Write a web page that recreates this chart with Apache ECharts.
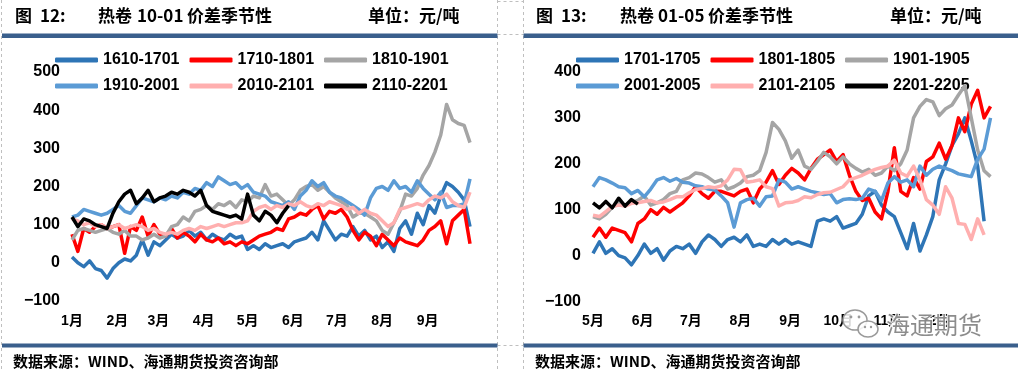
<!DOCTYPE html>
<html><head><meta charset="utf-8">
<script src="https://cdn.jsdelivr.net/npm/echarts@6/dist/echarts.min.js"></script>
<style>html,body{margin:0;padding:0;background:#fff}#c{width:1018px;height:371px}</style>
</head><body><div id="c"></div>
<script>
// ---------- Left chart: 热卷 10-01 价差季节性 (days since Jan 1) ----------
const leftDays = [0,4,8,12,16,20,24,28,32,36,40,44,48,52,56,60,64,68,72,76,80,84,88,92,96,100,104,108,112,116,120,124,128,132,136,140,144,148,152,156,160,164,168,172,176,180,184,188,192,196,200,204,208,212,216,220,224,228,232,236,240,244,248,252,256,260,264,268,272];
const leftMonthDays = [0,31,59,90,120,151,181,212,243];
const leftMonthLabels = ['1月','2月','3月','4月','5月','6月','7月','8月','9月'];
const leftNames = ['1610-1701','1710-1801','1810-1901','1910-2001','2010-2101','2110-2201'];
const s1610_1701 = [15,0,-10,5,-15,-20,-40,-15,0,10,5,20,60,20,55,45,60,75,65,70,85,70,80,60,75,65,60,75,65,70,35,45,35,50,40,45,50,40,55,60,65,80,60,110,85,60,75,70,95,70,85,60,70,40,55,30,90,110,75,130,100,150,130,175,210,200,185,165,95];
const s1710_1801 = [75,30,90,80,95,100,90,95,100,25,95,85,120,70,100,75,70,90,65,80,70,55,75,60,55,65,50,55,45,55,50,60,70,75,80,90,85,115,120,130,125,140,150,115,135,130,140,120,85,60,80,70,45,75,60,45,65,55,50,45,60,85,95,110,50,110,125,140,50];
const s1810_1901 = [60,85,90,85,80,85,90,80,75,85,70,70,60,65,75,65,70,95,100,120,110,135,140,150,140,155,150,160,145,165,160,175,170,205,175,180,165,150,165,190,200,205,190,200,185,170,160,150,120,130,130,120,110,85,75,105,135,180,175,195,230,255,290,335,415,375,365,360,315];
const s1910_2001 = [120,125,140,135,130,125,130,140,150,135,130,150,170,165,160,170,165,175,170,185,180,195,190,210,200,225,215,205,210,195,205,185,180,175,160,155,150,160,140,175,190,215,200,210,185,175,170,160,150,140,125,170,195,200,190,215,195,200,185,215,195,180,165,185,145,150,150,155,220];
const s2010_2101 = [115,110,100,105,95,100,90,95,100,90,95,100,95,85,90,80,75,80,75,85,90,85,95,90,95,100,95,100,105,105,110,135,145,150,140,150,145,155,150,160,150,145,155,150,160,155,150,140,145,130,140,130,125,110,95,105,140,145,150,155,150,165,175,170,180,160,150,145,185];
const s2110_2201 = [120,95,115,110,100,95,90,130,160,180,190,155,170,190,160,170,175,185,180,190,185,175,190,150,135,130,125,120,125,115,180,125,110,135,125,105,130,150];
const leftYTicks = {min:-100, max:500, interval:100};

// ---------- Right chart: 热卷 01-05 价差季节性 (days since May 1) ----------
const rightDays = [0,4,8,12,16,20,24,28,32,36,40,44,48,52,56,60,64,68,72,76,80,84,88,92,96,100,104,108,112,116,120,124,128,132,136,140,144,148,152,156,160,164,168,172,176,180,184,188,192,196,200,204,208,212,216,220,224,228,232,236,240,244,248];
const rightMonthDays = [0,31,61,92,123,153,184,214];
const rightMonthLabels = ['5月','6月','7月','8月','9月','10月','11月','12月'];
const rightNames = ['1701-1705','1801-1805','1901-1905','2001-2005','2101-2105','2201-2205'];
const r1701_1705 = [5,30,5,15,0,-5,-20,0,25,5,15,-10,10,20,15,25,5,30,45,35,20,35,40,30,45,20,25,20,35,25,35,25,30,25,20,75,80,75,85,60,65,70,90,130,140,110,95,85,50,15,70,10,45,85,165,200,240,265,300,250,195,75];
const r1801_1805 = [40,60,40,60,55,50,30,70,80,100,90,105,95,105,115,130,150,135,125,140,140,135,130,140,145,115,145,160,185,155,175,190,180,165,190,210,220,230,205,220,175,140,120,125,95,80,140,235,140,130,170,145,205,215,245,210,240,300,270,330,360,300,325];
const r1901_1905 = [85,80,90,105,115,110,115,120,130,110,115,122,135,140,165,170,180,178,170,160,165,145,150,158,172,175,185,225,290,275,250,212,230,195,188,205,225,215,200,215,200,190,182,188,175,180,195,185,200,230,300,325,340,335,305,320,328,350,370,300,230,185,172];
const r2001_2005 = [150,170,165,158,150,148,135,142,128,145,165,170,162,168,160,158,152,150,145,143,130,115,62,115,122,125,108,128,130,165,160,145,150,145,140,137,133,135,115,122,124,122,125,145,140,120,158,172,160,165,150,195,175,188,195,190,185,178,175,172,210,232,300];
const r2101_2105 = [88,85,96,107,110,108,114,115,118,120,115,117,122,128,128,137,144,146,150,148,152,165,188,187,160,162,165,150,146,108,115,116,120,128,126,133,137,138,144,150,165,170,175,182,188,192,195,208,180,173,195,165,122,110,90,150,125,70,68,35,80,45];
const r2201_2205 = [115,104,118,104,125,108,122,112];
const rightYTicks = {min:-100, max:400, interval:100};

const colors = ['#2E75B6','#FF0000','#A5A5A5','#5B9BD5','#FFAFAF','#000000'];

const latin = '"Liberation Sans", "Noto Sans CJK SC", sans-serif';
const cjk = '"Noto Sans CJK SC", sans-serif';

function pairs(days, vals){ return vals.map((v,i)=>[days[i], v]); }
function mkSeries(names, days, arrays, axisIdx){
  return arrays.map((arr,i)=>({
    name: names[i], type:'line', xAxisIndex:axisIdx, yAxisIndex:axisIdx,
    data: pairs(days, arr), showSymbol:false, symbol:'none',
    lineStyle:{width:3.5, color:colors[i], join:'round'}, itemStyle:{color:colors[i]},
    emphasis:{disabled:true}, silent:true, z: 2+i
  }));
}
function legendRow(names, left, top){
  return { data:names, left, top, orient:'horizontal', padding:0,
    itemWidth:43, itemHeight:5, itemGap:10, icon:'roundRect', selectedMode:false,
    textStyle:{fontSize:16, fontWeight:'bold', color:'#000', fontFamily:latin} };
}
function xAxisCfg(idx, max, mdays, mlabels){
  return { gridIndex:idx, type:'value', min:0, max:max,
    axisLine:{show:false}, axisTick:{show:false}, splitLine:{show:false},
    axisLabel:{ customValues: mdays, showMinLabel:true, showMaxLabel:true,
      formatter:(v)=>{ const k = mdays.indexOf(v); return k>=0 ? mlabels[k] : ''; },
      margin:13, fontSize:14, fontWeight:'bold', color:'#000', fontFamily:latin } };
}
function yAxisCfg(idx, t){
  return { gridIndex:idx, type:'value', min:t.min, max:t.max, interval:t.interval,
    axisLine:{show:false}, axisTick:{show:false}, splitLine:{show:false},
    axisLabel:{ margin:12, fontSize:16, fontWeight:'bold', color:'#000', fontFamily:latin,
      formatter:(v)=>String(v).replace('-', '\u2212') } };
}
function txt(text, x, y, font, extra){
  return Object.assign({ type:'text', z:50, style:{ text, x, y, font, fill:'#000', align:'left', verticalAlign:'middle' } }, extra||{});
}
function rect(x,y,w,h,fill){ return {type:'rect', z:40, shape:{x,y,width:w,height:h}, style:{fill}}; }
function dline(x1,y1,x2,y2){ return {type:'line', z:1, shape:{x1,y1,x2,y2}, style:{stroke:'#BFBFBF', lineWidth:1, lineDash:[3,3]}}; }

const titleFont = 'bold 17px ' + cjk;
const srcFont = 'bold 15px ' + cjk;
const blue = '#3A5F8C';

const graphics = [
  dline(1.5,0,1.5,371), dline(497.5,0,497.5,371), dline(523.5,0,523.5,371),
  dline(497.5,1.5,523.5,1.5), dline(497.5,34.5,523.5,34.5), dline(497.5,345.5,523.5,345.5),
  rect(2,33.5,495.5,4.5,blue), rect(523.5,33.5,494.5,4.5,blue),
  rect(2,343.5,495.5,4,blue), rect(523.5,343.5,494.5,4,blue),
  txt('图', 15, 16, titleFont), txt('12:', 40, 16, titleFont),
  txt('热卷', 98, 16, titleFont), txt('10-01', 137, 16, titleFont), txt('价差季节性', 187, 16, titleFont),
  txt('单位：元/吨', 368, 16, titleFont),
  txt('图', 536, 16, titleFont), txt('13:', 561, 16, titleFont),
  txt('热卷', 620, 16, titleFont), txt('01-05', 658, 16, titleFont), txt('价差季节性', 708, 16, titleFont),
  txt('单位：元/吨', 890, 16, titleFont),
  txt('数据来源：WIND、海通期货投资咨询部', 13, 361, srcFont),
  txt('数据来源：WIND、海通期货投资咨询部', 535, 361, srcFont),
  // watermark
  {type:'ellipse', z:60, shape:{cx:855, cy:320, rx:12, ry:10}, style:{fill:'rgba(255,255,255,0.85)', stroke:'#9A9A9A', lineWidth:1.5}},
  {type:'ellipse', z:61, shape:{cx:868, cy:329, rx:10, ry:8}, style:{fill:'rgba(255,255,255,0.85)', stroke:'#9A9A9A', lineWidth:1.5}},
  {type:'circle', z:62, shape:{cx:851, cy:317, r:1.4}, style:{fill:'#9A9A9A'}},
  {type:'circle', z:62, shape:{cx:859, cy:317, r:1.4}, style:{fill:'#9A9A9A'}},
  {type:'circle', z:62, shape:{cx:865, cy:327, r:1.2}, style:{fill:'#9A9A9A'}},
  {type:'circle', z:62, shape:{cx:871, cy:327, r:1.2}, style:{fill:'#9A9A9A'}},
  {type:'text', z:62, style:{text:'海通期货', x:886, y:325, font:'24px ' + cjk, fill:'rgba(120,120,120,0.85)', align:'left', verticalAlign:'middle', stroke:'rgba(255,255,255,0.9)', lineWidth:2, strokeFirst:true}}
];

const chart = echarts.init(document.getElementById('c'), null, {renderer:'canvas'});
chart.setOption({
  animation:false,
  backgroundColor:'#fff',
  grid:[
    {left:72, top:72, width:398, height:229, containLabel:false},
    {left:593, top:72, width:397.5, height:229.5, containLabel:false}
  ],
  legend:[
    legendRow(leftNames.slice(0,3), 55, 52), legendRow(leftNames.slice(3), 55, 78),
    legendRow(rightNames.slice(0,3), 576, 52), legendRow(rightNames.slice(3), 576, 78)
  ],
  xAxis:[ xAxisCfg(0, 272, leftMonthDays, leftMonthLabels), xAxisCfg(1, 248, rightMonthDays, rightMonthLabels) ],
  yAxis:[ yAxisCfg(0, leftYTicks), yAxisCfg(1, rightYTicks) ],
  series: [].concat(
    mkSeries(leftNames, leftDays, [s1610_1701, s1710_1801, s1810_1901, s1910_2001, s2010_2101, s2110_2201], 0),
    mkSeries(rightNames, rightDays, [r1701_1705, r1801_1805, r1901_1905, r2001_2005, r2101_2105, r2201_2205], 1)
  ),
  graphic: graphics
});
</script></body></html>
